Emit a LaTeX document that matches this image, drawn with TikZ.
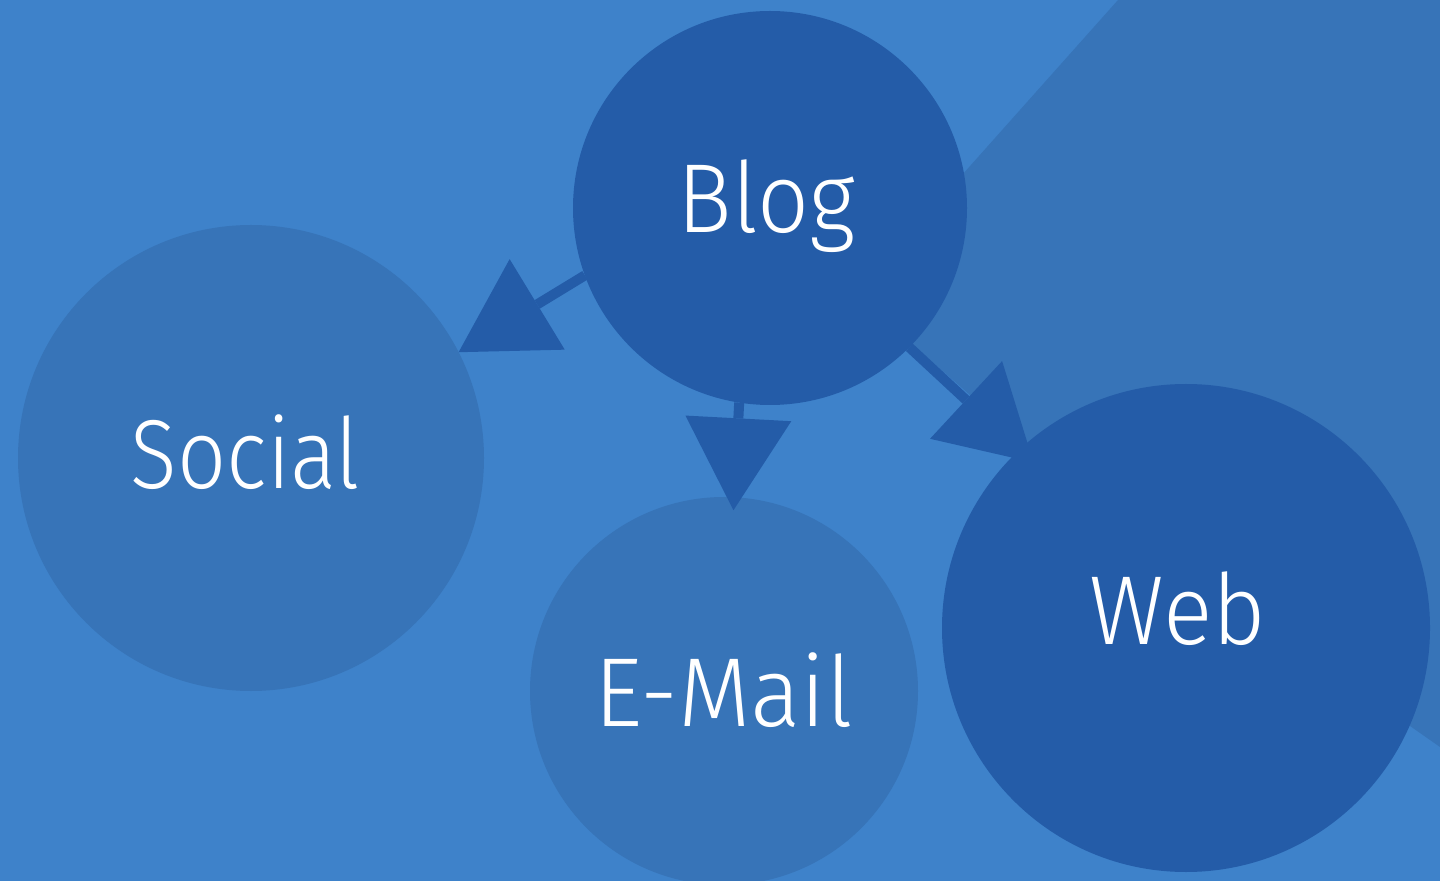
\documentclass[tikz,border=0pt]{standalone}
\usepackage{graphicx}
\usepackage{fontspec}
\setmainfont{Fira Sans Light}
\usetikzlibrary{arrows.meta}
\definecolor{bgblue}{HTML}{3E82CA}
\definecolor{midblue}{HTML}{3774B8}
\definecolor{darkblue}{HTML}{245CA8}
\pgfdeclarelayer{back}
\pgfdeclarelayer{links}
\pgfsetlayers{back,links,main}
\newcommand{\narrowtext}[2]{\scalebox{#1}[1]{#2}}
\begin{document}
\begin{tikzpicture}[x=0.5pt,y=-0.5pt,
  bubble/.style={circle, inner sep=0pt, outer sep=0pt, draw=none},
  lightbubble/.style={bubble, fill=midblue},
  darkbubble/.style={bubble, fill=darkblue},
  txt/.style={text=white, font=\fontsize{49}{59}\selectfont, inner sep=0pt, outer sep=0pt, anchor=base},
  link/.style={draw=darkblue, line width=5pt, -{Triangle[length=46pt, width=53pt, line width=0pt]}}
]
\useasboundingbox (0,0) rectangle (1440,881);
\begin{pgfonlayer}{back}
\clip (0,0) rectangle (1440,881);
\fill[bgblue] (0,0) rectangle (1440,881);
\fill[midblue] (1118,0) -- (1440,0) -- (1440,747) -- (1410,726) -- (1027,445) -- (913,345) -- (856,294) -- cycle;
\node[lightbubble, minimum size=233pt] (social) at (251,458) {};
\node[lightbubble, minimum size=194pt] (email) at (724,691) {};
\node[darkbubble, minimum size=197pt] (blog) at (770,208) {};
\end{pgfonlayer}
\begin{scope}
\clip (0,0) rectangle (1440,881);
\node[darkbubble, minimum size=244pt] (web) at (1186,628) {};
\end{scope}
\begin{pgfonlayer}{links}
\draw[link] (blog.200) -- (social.27);
\draw[link, shorten >=-6.5pt] (blog.261) -- (email.87.5);
\draw[link, shorten >=-9.5pt] (blog.315) -- (web.133);
\end{pgfonlayer}
\node[txt] (blogtxt) at (766.5,233) {\narrowtext{0.93}{Blog}};
\node[txt] (socialtxt) at (245.5,489) {\narrowtext{0.88}{Social}};
\node[txt] (emailtxt) at (723.5,726) {\narrowtext{0.96}{E-Mail}};
\node[txt] (webtxt) at (1178,644) {\narrowtext{0.94}{Web}};
\end{tikzpicture}
\end{document}
